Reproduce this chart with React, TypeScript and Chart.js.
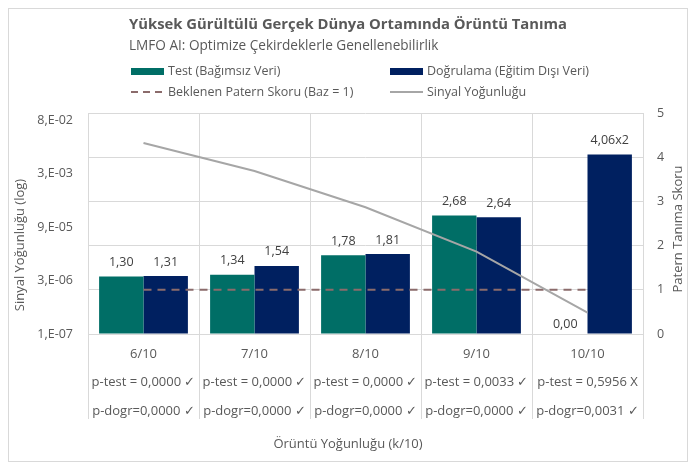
import { useEffect, useRef } from "react"
import { Chart, registerables } from "chart.js"

Chart.register(...registerables)

// values
const categories = ["6/10", "7/10", "8/10", "9/10", "10/10"]
const pTest = [0.0, 0.0, 0.0, 0.0033, 0.5956]
const pDogr = [0.0, 0.0, 0.0, 0.0, 0.0031]
const testScores = [1.3, 1.34, 1.78, 2.68, 0.0]
const dogrScores = [1.31, 1.54, 1.81, 2.64, 4.06]
const dogrSuffix = ["", "", "", "", "x2"]
const baseline = [1, 1, 1, 1, 1]
const signalDensity = [1.9e-2, 3.2e-3, 3.2e-4, 1.9e-5, 3.9e-7]
const signalTicks = [1e-7, 3e-6, 9e-5, 2.7e-3, 8.1e-2]

const TITLE = "Yüksek Gürültülü Gerçek Dünya Ortamında Örüntü Tanıma"
const SUBTITLE = "LMFO AI: Optimize Çekirdeklerle Genellenebilirlik"
const FONT = "'Open Sans', 'Noto Sans', sans-serif"
const TEXT = "#595959"
const GRID = "#d9d9d9"
const TEAL = "#006e66"
const NAVY = "#002060"
const BROWN = "#8b6b6b"
const GRAY = "#a6a6a6"

const comma = (v: number, d: number) => v.toFixed(d).replace(".", ",")

const sci = (v: number) => {
  const e = Math.floor(Math.log10(v) + 1e-9)
  const m = Math.round(v / Math.pow(10, e))
  return `${m},E${e < 0 ? "-" : "+"}${String(Math.abs(e)).padStart(2, "0")}`
}

const xLabels = categories.map((c, i) => [
  c,
  `p-test = ${comma(pTest[i], 4)} ${pTest[i] < 0.05 ? "✓" : "X"}`,
  `p-dogr=${comma(pDogr[i], 4)} ${pDogr[i] < 0.05 ? "✓" : "X"}`,
])

const decor = {
  id: "decor",
  afterDatasetsDraw(chart: any) {
    const ctx = chart.ctx
    ctx.save()
    ctx.font = `12.5px ${FONT}`
    ctx.fillStyle = "#404040"
    ctx.textAlign = "center"
    ctx.textBaseline = "middle"
    chart.data.datasets.forEach((ds: any, di: number) => {
      if (ds.type !== "bar") return
      const meta = chart.getDatasetMeta(di)
      meta.data.forEach((el: any, i: number) => {
        const v = ds.data[i]
        const suffix = ds.suffix ? ds.suffix[i] : ""
        const off = v === 0 ? 10 : 14
        ctx.fillText(comma(v, 2) + suffix, el.x, el.y - off)
      })
    })
    ctx.restore()
  },
  afterDraw(chart: any) {
    const ctx = chart.ctx
    const { width, chartArea } = chart
    ctx.save()
    ctx.fillStyle = TEXT
    ctx.textBaseline = "middle"

    // title block
    ctx.font = `bold 14.8px ${FONT}`
    const tw = ctx.measureText(TITLE).width
    const tx = (width - tw) / 2
    ctx.textAlign = "left"
    ctx.fillText(TITLE, tx, 16)
    ctx.font = `13.6px ${FONT}`
    ctx.fillText(SUBTITLE, tx, 37.5)

    // legend, 2 x 2
    ctx.font = `12.5px ${FONT}`
    const cols = [122, 381]
    const rows = [62, 83]
    chart.data.datasets.forEach((ds: any) => {
      const slot = ds.legendSlot
      const x = cols[slot % 2]
      const y = rows[Math.floor(slot / 2)]
      if (ds.type === "bar") {
        ctx.fillStyle = ds.backgroundColor
        ctx.fillRect(x, y - 3, 33, 7)
      } else {
        ctx.strokeStyle = ds.borderColor
        ctx.lineWidth = 2
        ctx.setLineDash(ds.borderDash ? [7, 5] : [])
        ctx.beginPath()
        ctx.moveTo(x, y)
        ctx.lineTo(x + 33, y)
        ctx.stroke()
        ctx.setLineDash([])
      }
      ctx.fillStyle = TEXT
      ctx.fillText(ds.label, x + 37, y)
    })

    // axis titles
    ctx.font = `13px ${FONT}`
    ctx.textAlign = "center"
    ctx.fillText("Örüntü Yoğunluğu (k/10)", width / 2, 435)
    ctx.save()
    ctx.translate(11, 236)
    ctx.rotate(-Math.PI / 2)
    ctx.fillText("Sinyal Yoğunluğu (log)", 0, 0)
    ctx.restore()
    ctx.save()
    ctx.translate(chartArea.right + 35, 220)
    ctx.rotate(-Math.PI / 2)
    ctx.fillText("Patern Tanıma Skoru", 0, 0)
    ctx.restore()
    ctx.restore()
  },
}

export default function App() {
  const canvasRef = useRef<HTMLCanvasElement | null>(null)
  const chartRef = useRef<Chart | null>(null)

  useEffect(() => {
    if (!canvasRef.current) return
    const ctx = canvasRef.current.getContext("2d")
    if (!ctx) return
    if (chartRef.current) chartRef.current.destroy()

    chartRef.current = new Chart(ctx, {
      type: "bar",
      data: {
        labels: xLabels,
        datasets: [
          {
            type: "bar",
            label: "Test (Bağımsız Veri)",
            data: testScores,
            backgroundColor: TEAL,
            yAxisID: "y1",
            order: 2,
            legendSlot: 0,
          } as any,
          {
            type: "bar",
            label: "Doğrulama (Eğitim Dışı Veri)",
            data: dogrScores,
            suffix: dogrSuffix,
            backgroundColor: NAVY,
            yAxisID: "y1",
            order: 2,
            legendSlot: 1,
          } as any,
          {
            type: "line",
            label: "Beklenen Patern Skoru (Baz = 1)",
            data: baseline,
            borderColor: BROWN,
            borderWidth: 2,
            borderDash: [8, 6],
            pointRadius: 0,
            yAxisID: "y1",
            order: 1,
            legendSlot: 2,
          } as any,
          {
            type: "line",
            label: "Sinyal Yoğunluğu",
            data: signalDensity,
            borderColor: GRAY,
            borderWidth: 2,
            pointRadius: 0,
            yAxisID: "y",
            order: 0,
            legendSlot: 3,
          } as any,
        ],
      },
      options: {
        responsive: true,
        maintainAspectRatio: false,
        animation: false,
        layout: { padding: { top: 104, left: 0, right: 0, bottom: 0 } },
        datasets: { bar: { barPercentage: 1, categoryPercentage: 0.8 } },
        plugins: {
          legend: { display: false },
          title: { display: false },
          tooltip: { enabled: false },
        },
        scales: {
          x: {
            grid: {
              color: GRID,
              offset: true,
              drawTicks: true,
              tickLength: 85,
            },
            border: { color: GRID },
            ticks: {
              color: TEXT,
              padding: -79,
              maxRotation: 0,
              autoSkip: false,
              font: { family: FONT, size: 13, lineHeight: 2.19 },
            },
            afterFit: (s: any) => {
              s.height = 127
            },
          },
          y: {
            type: "logarithmic",
            position: "left",
            min: 1e-7,
            max: 0.129,
            grid: { display: false, drawTicks: false },
            border: { display: false },
            afterBuildTicks: (s: any) => {
              s.ticks = signalTicks.map((v) => ({ value: v }))
            },
            ticks: {
              color: TEXT,
              padding: 15,
              font: { family: FONT, size: 12.5 },
              callback: (v: any) => sci(Number(v)),
            },
            afterFit: (s: any) => {
              s.width = 79
            },
          },
          y1: {
            position: "right",
            min: 0,
            max: 5,
            grid: { color: GRID, drawTicks: false },
            border: { display: false },
            ticks: {
              color: TEXT,
              stepSize: 1,
              padding: 14,
              font: { family: FONT, size: 12.5 },
            },
            afterFit: (s: any) => {
              s.width = 44
            },
          },
        },
      },
      plugins: [decor],
    } as any)

    return () => {
      if (chartRef.current) {
        chartRef.current.destroy()
        chartRef.current = null
      }
    }
  }, [])

  return (
    <div
      style={{
        width: 680,
        height: 454,
        border: `1px solid ${GRID}`,
        boxSizing: "border-box",
        position: "relative",
      }}
    >
      <canvas ref={canvasRef}></canvas>
    </div>
  )
}
